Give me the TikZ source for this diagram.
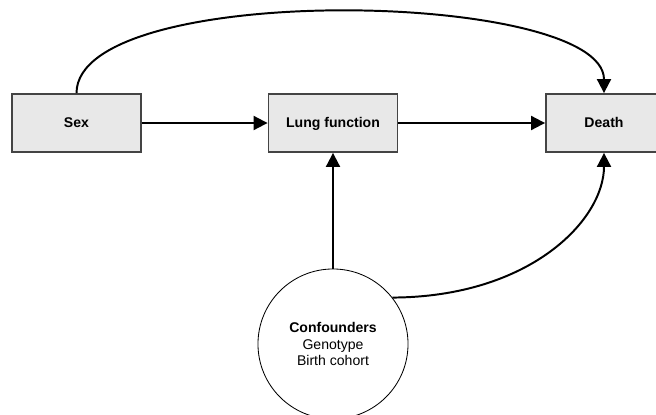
\documentclass[tikz,border=0pt]{standalone}
\usepackage{fontspec}
\setmainfont{Liberation Sans}
\usetikzlibrary{arrows.meta}
\definecolor{boxfill}{HTML}{E8E8E8}
\definecolor{boxline}{HTML}{444444}
\begin{document}
\begin{tikzpicture}[x=0.025cm,y=-0.025cm,
		varbox/.style={draw=boxline,fill=boxfill,line width=1.3pt,minimum width=3.225cm,minimum height=1.45cm,text height=1.6ex,text depth=0.4ex,font=\bfseries},
		confcircle/.style={draw,fill=white,circle,line width=0.6pt,minimum size=3.75cm,align=center},
		link/.style={line width=1.4pt,-{Triangle[length=10pt,width=10pt]}}]
		\useasboundingbox (0,0) rectangle (656,414);
		
		\node[varbox] (sex) at (76.5,123) {Sex};
		\node[varbox] (lung) at (333,123) {Lung function};
		\node[varbox,minimum width=2.9cm] (death) at (604,123) {Death};
		
		\node[confcircle] (conf) at (333,344) {\textbf{Confounders}\\Genotype\\Birth cohort};
		
		\draw[link] (sex) -- (lung);
		\draw[link] (lung) -- (death);
		\draw[link] (conf) -- (lung);
		\draw[link] (sex.north) .. controls (77,-20) and (604,-10) .. (death.north);
		\draw[link] (conf.38) .. controls (530,297) and (604,220) .. (death.south);
	\end{tikzpicture}
\end{document}
